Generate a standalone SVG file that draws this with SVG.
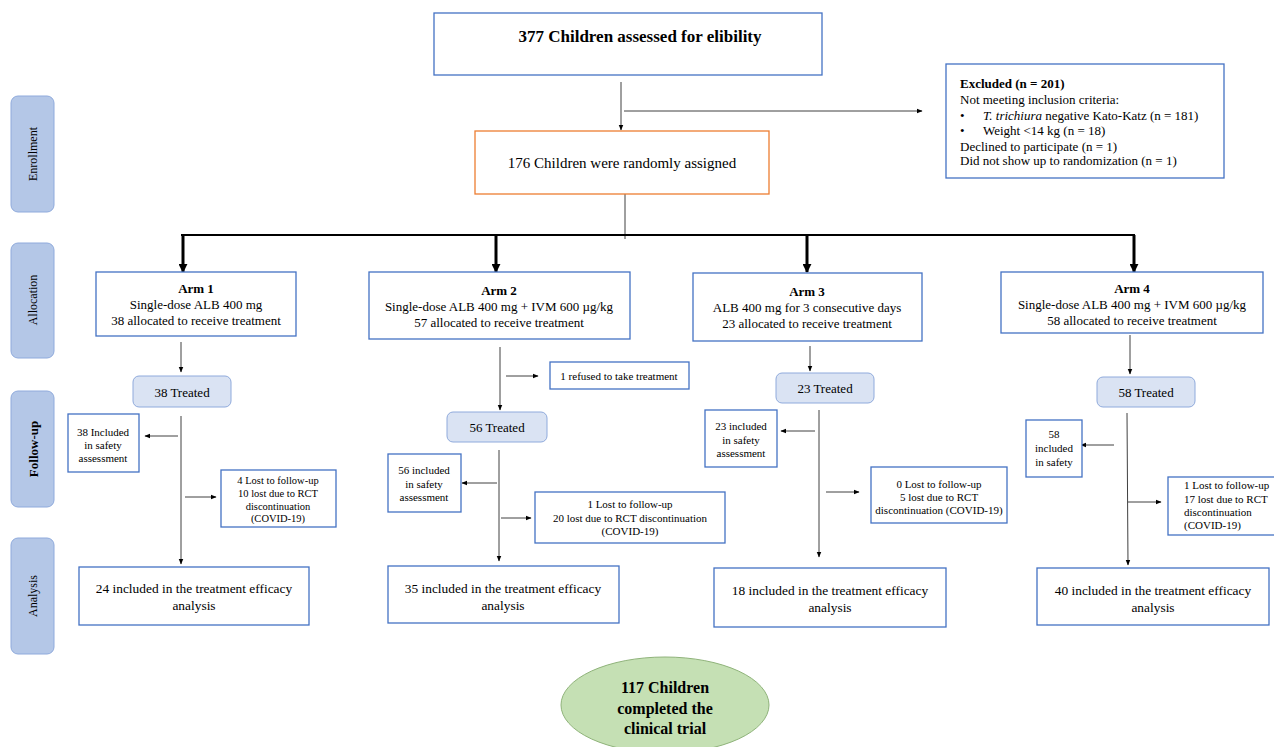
<svg xmlns="http://www.w3.org/2000/svg" width="1274" height="747" viewBox="0 0 1274 747">
<defs>
<marker id="ah" viewBox="0 0 10 10" refX="9" refY="5" markerWidth="6" markerHeight="6" orient="auto" markerUnits="userSpaceOnUse"><path d="M0,1 L10,5 L0,9 z" fill="#000"/></marker>
<marker id="ahb" viewBox="0 0 10 10" refX="9" refY="5" markerWidth="9" markerHeight="9" orient="auto" markerUnits="userSpaceOnUse"><path d="M0,0 L10,5 L0,10 z" fill="#000"/></marker>
<style>
text{font-family:"Liberation Serif","Times New Roman",serif;fill:#000}
.box{fill:#fff;stroke:#4472c4;stroke-width:1.3}
.obox{fill:#fff;stroke:#ed7d31;stroke-width:1.3}
.side{fill:#b4c7e7;stroke:#8faadc;stroke-width:1}
.tr{fill:#dae3f3;stroke:#8faadc;stroke-width:1}
.t14{font-size:15px;text-anchor:middle}
.t13{font-size:13px;text-anchor:middle}
.t13b{font-size:13.4px;text-anchor:middle}
.t11{font-size:11px;text-anchor:middle}
.t10{font-size:10.5px;text-anchor:middle}
.ln{stroke:#404040;stroke-width:1;fill:none}
.lnA{stroke:#404040;stroke-width:1;fill:none;marker-end:url(#ah)}
.thick{stroke:#000;stroke-width:3;fill:none;marker-end:url(#ahb)}
</style>
</defs>
<rect width="1274" height="747" fill="#fff"/>

<g id="side-labels">
<g id="lbl-enrollment"><rect class="side" x="11" y="96" width="43" height="116" rx="7"/><text transform="translate(37,154) rotate(-90)" font-size="12" text-anchor="middle">Enrollment</text></g>
<g id="lbl-allocation"><rect class="side" x="11" y="243" width="43" height="115" rx="7"/><text transform="translate(37,300) rotate(-90)" font-size="12" text-anchor="middle">Allocation</text></g>
<g id="lbl-followup"><rect class="side" x="11" y="391" width="43" height="116" rx="7"/><text transform="translate(38,449) rotate(-90)" font-size="13" font-weight="bold" text-anchor="middle">Follow-up</text></g>
<g id="lbl-analysis"><rect class="side" x="11" y="538" width="43" height="116" rx="7"/><text transform="translate(37,596) rotate(-90)" font-size="12" text-anchor="middle">Analysis</text></g>
</g>

<g id="connectors">
<line class="lnA" x1="621" y1="82" x2="621" y2="130"/>
<line class="lnA" x1="624" y1="111" x2="922" y2="111"/>
<line class="ln" x1="625" y1="194" x2="625" y2="239"/>
<line x1="181" y1="235" x2="1135" y2="235" stroke="#000" stroke-width="2"/>
<line class="thick" x1="183" y1="235" x2="183" y2="272"/>
<line class="thick" x1="496" y1="235" x2="496" y2="272"/>
<line class="thick" x1="807" y1="235" x2="807" y2="272"/>
<line class="thick" x1="1134" y1="235" x2="1134" y2="272"/>
<!-- arm 1 -->
<line class="lnA" x1="181" y1="342" x2="181" y2="372"/>
<line class="lnA" x1="181" y1="416" x2="181" y2="564"/>
<line class="lnA" x1="178" y1="436" x2="145" y2="436"/>
<line class="lnA" x1="185" y1="497" x2="216" y2="497"/>
<!-- arm 2 -->
<line class="lnA" x1="500" y1="347" x2="500" y2="410"/>
<line class="lnA" x1="506" y1="376" x2="538" y2="376"/>
<line class="lnA" x1="499" y1="450" x2="499" y2="561"/>
<line class="lnA" x1="497" y1="483" x2="462" y2="483"/>
<line class="lnA" x1="501" y1="518" x2="531" y2="518"/>
<!-- arm 3 -->
<line class="lnA" x1="810" y1="346" x2="810" y2="371"/>
<line class="lnA" x1="819" y1="410" x2="819" y2="557"/>
<line class="lnA" x1="815" y1="431" x2="781" y2="431"/>
<line class="lnA" x1="826" y1="492" x2="859" y2="492"/>
<!-- arm 4 -->
<line class="lnA" x1="1130" y1="335" x2="1130" y2="374"/>
<line class="lnA" x1="1127" y1="413" x2="1128" y2="565"/>
<line class="lnA" x1="1114" y1="445" x2="1081" y2="445"/>
<line class="lnA" x1="1128" y1="502" x2="1161" y2="502"/>
</g>

<g id="n-assessed"><rect class="box" x="434" y="13" width="388" height="62"/><text x="640" y="42" font-size="17" font-weight="bold" text-anchor="middle">377 Children assessed for elibility</text></g>

<g id="n-excluded"><rect class="box" x="946" y="64" width="278" height="114"/>
<text font-size="13"><tspan x="960" y="88" font-weight="bold">Excluded (n = 201)</tspan><tspan x="960" y="104">Not meeting inclusion criteria:</tspan></text>
<text font-size="13"><tspan x="960" y="120">•</tspan><tspan x="983" y="120"><tspan font-style="italic">T. trichiura</tspan> negative Kato-Katz (n = 181)</tspan></text>
<text font-size="13"><tspan x="960" y="135">•</tspan><tspan x="983" y="135">Weight &lt;14 kg (n = 18)</tspan></text>
<text font-size="13"><tspan x="960" y="151">Declined to participate (n = 1)</tspan><tspan x="960" y="165">Did not show up to randomization (n = 1)</tspan></text>
</g>

<g id="n-randomized"><rect class="obox" x="475" y="131" width="294" height="63"/><text class="t14" x="622" y="168">176 Children were randomly assigned</text></g>

<g id="n-arm1"><rect class="box" x="96" y="272" width="200" height="64"/><text class="t13"><tspan x="196" y="293" font-weight="bold">Arm 1</tspan><tspan x="196" y="309">Single-dose ALB 400 mg</tspan><tspan x="196" y="325">38 allocated to receive treatment</tspan></text></g>
<g id="n-arm2"><rect class="box" x="369" y="272" width="261" height="67"/><text class="t13"><tspan x="499" y="295" font-weight="bold">Arm 2</tspan><tspan x="499" y="311">Single-dose ALB 400 mg + IVM 600 µg/kg</tspan><tspan x="499" y="327">57 allocated to receive treatment</tspan></text></g>
<g id="n-arm3"><rect class="box" x="693" y="273" width="229" height="68"/><text class="t13"><tspan x="807" y="296" font-weight="bold">Arm 3</tspan><tspan x="807" y="312">ALB 400 mg for 3 consecutive days</tspan><tspan x="807" y="328">23 allocated to receive treatment</tspan></text></g>
<g id="n-arm4"><rect class="box" x="1001" y="272" width="262" height="61"/><text class="t13"><tspan x="1132" y="293" font-weight="bold">Arm 4</tspan><tspan x="1132" y="309">Single-dose ALB 400 mg + IVM 600 µg/kg</tspan><tspan x="1132" y="325">58 allocated to receive treatment</tspan></text></g>

<g id="n-treated1"><rect class="tr" x="133" y="376" width="98" height="31" rx="6"/><text class="t13" x="182" y="397">38 Treated</text></g>
<g id="n-treated2"><rect class="tr" x="447" y="412" width="100" height="30" rx="6"/><text class="t13" x="497" y="432">56 Treated</text></g>
<g id="n-treated3"><rect class="tr" x="776" y="373" width="98" height="30" rx="6"/><text class="t13" x="825" y="393">23 Treated</text></g>
<g id="n-treated4"><rect class="tr" x="1097" y="377" width="98" height="30" rx="6"/><text class="t13" x="1146" y="397">58 Treated</text></g>

<g id="n-refused"><rect class="box" x="550" y="362" width="139" height="27"/><text class="t11" x="619" y="380">1 refused to take treatment</text></g>

<g id="n-safety1"><rect class="box" x="68" y="414" width="71" height="58"/><text class="t11"><tspan x="103" y="436">38 Included</tspan><tspan x="103" y="449">in safety</tspan><tspan x="103" y="462">assessment</tspan></text></g>
<g id="n-safety2"><rect class="box" x="388" y="454" width="73" height="58"/><text class="t11"><tspan x="424" y="474">56 included</tspan><tspan x="424" y="488">in safety</tspan><tspan x="424" y="501">assessment</tspan></text></g>
<g id="n-safety3"><rect class="box" x="705" y="410" width="72" height="57"/><text class="t11"><tspan x="741" y="430">23 included</tspan><tspan x="741" y="444">in safety</tspan><tspan x="741" y="457">assessment</tspan></text></g>
<g id="n-safety4"><rect class="box" x="1026" y="420" width="56" height="57"/><text class="t11"><tspan x="1054" y="438">58</tspan><tspan x="1054" y="452">included</tspan><tspan x="1054" y="466">in safety</tspan></text></g>

<g id="n-lost1"><rect class="box" x="221" y="470" width="115" height="57"/><text class="t10"><tspan x="278" y="484">4 Lost to follow-up</tspan><tspan x="278" y="497">10 lost due to RCT</tspan><tspan x="278" y="510">discontinuation</tspan><tspan x="278" y="522">(COVID-19)</tspan></text></g>
<g id="n-lost2"><rect class="box" x="535" y="492" width="190" height="51"/><text class="t11"><tspan x="630" y="508">1 Lost to follow-up</tspan><tspan x="630" y="522">20 lost due to RCT discontinuation</tspan><tspan x="630" y="535">(COVID-19)</tspan></text></g>
<g id="n-lost3"><rect class="box" x="871" y="467" width="136" height="56"/><text class="t11"><tspan x="939" y="488">0 Lost to follow-up</tspan><tspan x="939" y="501">5 lost due to RCT</tspan><tspan x="939" y="514">discontinuation (COVID-19)</tspan></text></g>
<g id="n-lost4"><rect class="box" x="1168" y="477" width="110" height="58"/><text font-size="11"><tspan x="1184" y="489">1 Lost to follow-up</tspan><tspan x="1184" y="503">17 lost due to RCT</tspan><tspan x="1184" y="516">discontinuation</tspan><tspan x="1184" y="529">(COVID-19)</tspan></text></g>

<g id="n-analysis1"><rect class="box" x="79" y="567" width="230" height="58"/><text class="t13b"><tspan x="194" y="593">24 included in the treatment efficacy</tspan><tspan x="194" y="610">analysis</tspan></text></g>
<g id="n-analysis2"><rect class="box" x="388" y="566" width="231" height="57"/><text class="t13b"><tspan x="503" y="593">35 included in the treatment efficacy</tspan><tspan x="503" y="610">analysis</tspan></text></g>
<g id="n-analysis3"><rect class="box" x="714" y="568" width="232" height="59"/><text class="t13b"><tspan x="830" y="595">18 included in the treatment efficacy</tspan><tspan x="830" y="612">analysis</tspan></text></g>
<g id="n-analysis4"><rect class="box" x="1037" y="568" width="232" height="57"/><text class="t13b"><tspan x="1153" y="595">40 included in the treatment efficacy</tspan><tspan x="1153" y="612">analysis</tspan></text></g>

<g id="n-completed"><ellipse cx="665" cy="705" rx="104" ry="48" fill="#c5e0b4" stroke="#8fb37a" stroke-width="1"/><text font-size="16" font-weight="bold" text-anchor="middle"><tspan x="665" y="693">117 Children</tspan><tspan x="665" y="714">completed the</tspan><tspan x="665" y="734">clinical trial</tspan></text></g>
</svg>
